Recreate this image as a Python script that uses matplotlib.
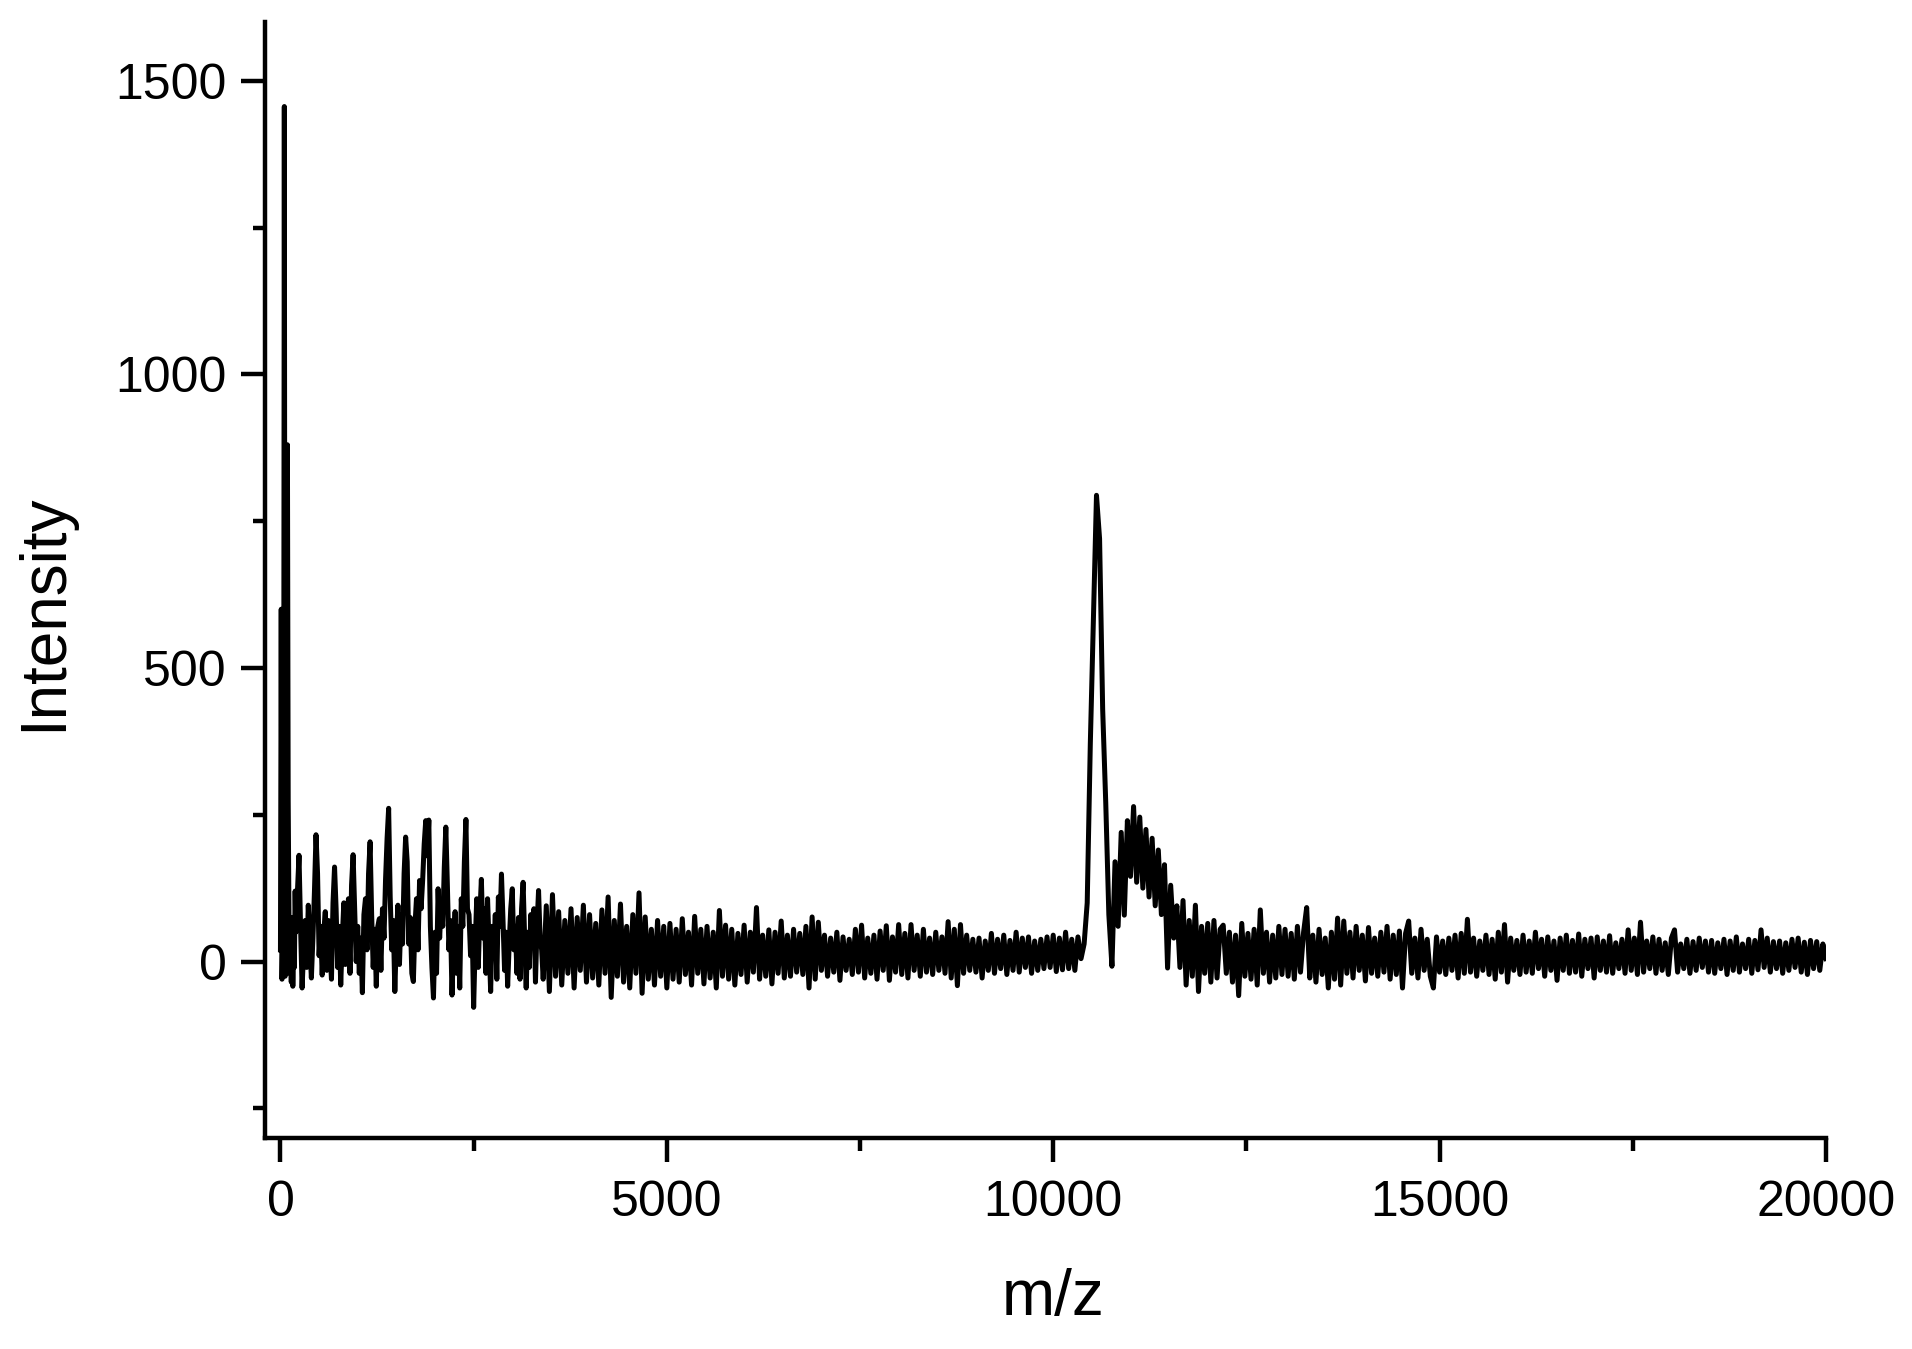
import numpy as np
import matplotlib
matplotlib.use("Agg")
import matplotlib.pyplot as plt
from matplotlib.ticker import MultipleLocator

plt.rcParams['font.family'] = ['Liberation Sans', 'DejaVu Sans']

# m/z 0-190, step 10 (the sharp low-mass spikes)
head_mz = np.arange(0, 200, 10)
head_int = [20, 600, -30, 60, -20, 1456, -25, 70, -10, 880,
            275, 80, -20, 60, -35, 75, -42, 40, -10, 120]

# m/z 200-3380, step 20 (periodic peak series)
low_int = [
    50, 120, 181, 60, -45, 20, 70, -10, 96, 30, -28, 40, 120, 216, 150, 10,        # 200-500
    60, -23, 50, 85, -15, 70, 20, -30, 100, 161, 90, -10, 60, -40, 40, 100,        # 520-820
    -5, 70, 107, -20, 130, 182, 90, 0, 60, -20, 40, -53, 80, 107, 20, 150,         # 840-1140
    204, 80, -10, 55, -42, 60, 73, -15, 90, 40, 140, 210, 261, 110, 20, 70,        # 1160-1460
    -51, 40, 96, -5, 80, 30, 150, 212, 170, 30, 75, -20, -34, 60, 107, 20,         # 1480-1780
    138, 90, 138, 200, 240, 180, 241, 60, -10, -62, 50, -20, 124, 40, 100, 60,     # 1800-2100
    160, 229, 130, 20, 70, -57, 30, 85, -20, 60, -45, 107, 60, 170, 242, 90,       # 2120-2420
    80, 10, 60, -78, 30, 107, -10, 80, 140, 40, 90, -20, 107, 30, -51, 60,         # 2440-2740
    10, 80, -30, 110, 60, 149, 70, -15, 50, -42, 30, 90, 124, 20, 60, -20,         # 2760-3060
    75, -30, 90, 135, 40, -45, 50, -10, 80, 30, 90, -35, 60, 121, 40, 20,          # 3080-3380
]
low_mz = 200 + 20 * np.arange(len(low_int))

# m/z 3400-20000, step 40
body_int = [
    # 3400 - 4160
    -30, 95, -51, 114, -25, 85, -40, 70, -20, 90, -45, 75, -15, 96, -35, 80, -28, 65, -40, 88,
    # 4200 - 4960
    -20, 110, -61, 70, -25, 98, -35, 60, -45, 80, -20, 117, -54, 76, -30, 55, -40, 70, -25, 60,
    # 5000 - 5760
    -45, 65, -30, 55, -35, 73, -22, 50, -40, 77, -20, 55, -38, 60, -28, 50, -45, 87, -25, 62,
    # 5800 - 6560
    -30, 55, -40, 48, -22, 62, -35, 50, -18, 92, -30, 45, -25, 54, -38, 50, -20, 69, -28, 45,
    # 6600 - 7360
    -25, 55, -18, 48, -22, 60, -45, 76, -30, 67, -15, 45, -25, 40, -18, 50, -32, 42, -15, 38,
    # 7400 - 8160
    -22, 55, -18, 62, -28, 40, -20, 45, -30, 52, -15, 61, -32, 42, -18, 63, -22, 48, -28, 63,
    # 8200 - 8960
    -15, 45, -25, 55, -18, 40, -22, 50, -15, 42, -20, 68, -28, 55, -41, 63, -20, 45, -15, 38,
    # 9000 - 9760
    -18, 40, -28, 35, -15, 48, -20, 38, -12, 45, -22, 36, -15, 50, -18, 40, -10, 42, -20, 35,
    # 9800 - 10560
    -15, 38, -12, 42, -10, 45, -17, 40, -14, 50, -12, 38, -15, 42, 5, 30, 100, 370, 580, 794,
    # 10600 - 11360
    720, 430, 270, 80, -8, 170, 60, 220, 79, 240, 145, 264, 135, 246, 125, 225, 110, 210, 95, 190,
    # 11400 - 12160
    80, 165, -11, 130, 40, 95, -10, 104, -40, 70, -25, 96, -51, 60, -20, 65, -35, 70, -28, 55,
    # 12200 - 12960
    62, -20, 50, -35, 45, -58, 65, -25, 48, -30, 55, -40, 88, -20, 50, -35, 45, -28, 60, -22,
    # 13000 - 13760
    55, -25, 48, -30, 60, -18, 50, 92, -28, 45, -35, 55, -22, 40, -45, 50, -30, 74, -40, 69,
    # 13800 - 14560
    -20, 50, -28, 60, -15, 45, -33, 58, -20, 40, -25, 50, -18, 60, -30, 45, -22, 52, -45, 48,
    # 14600 - 15360
    69, -20, 40, -28, 55, -15, 38, -25, -45, 42, -18, 35, -22, 40, -15, 45, -28, 48, -20, 72,
    # 15400 - 16160
    -18, 40, -25, 35, -15, 45, -22, 38, -30, 50, -18, 63, -35, 40, -15, 36, -22, 45, -18, 35,
    # 16200 - 16960
    -20, 50, -12, 38, -25, 42, -15, 35, -32, 40, -15, 45, -20, 36, -18, 47, -25, 38, -12, 40,
    # 17000 - 17760
    -28, 42, -15, 35, -18, 44, -20, 32, -12, 38, -20, 54, -15, 40, -22, 67, -18, 35, -12, 42,
    # 17800 - 18560
    -20, 38, -15, 32, -22, 40, 54, -18, 30, -12, 38, -20, 34, -15, 40, -10, 35, -18, 36, -20,
    # 18600 - 19360
    32, -12, 38, -22, 35, -15, 42, -18, 30, -12, 38, -20, 36, -14, 54, -10, 40, -18, 34, -12,
    # 19400 - 20000
    35, -20, 32, -15, 38, -10, 40, -18, 33, -22, 36, -12, 34, -15, 30, 5,
]
body_mz = 3400 + 40 * np.arange(len(body_int))

mz = np.concatenate([head_mz, low_mz, body_mz])
intensity = np.concatenate([head_int, low_int, body_int])

fig = plt.figure(figsize=(19.12, 13.49), dpi=100)
ax = fig.add_axes([0.1386, 0.1566, 0.955 - 0.1386, 0.9837 - 0.1566])

ax.plot(mz, intensity, color='black', lw=3.6)

ax.set_xlim(-200, 20000)
ax.set_ylim(-300, 1600)

ax.xaxis.set_major_locator(MultipleLocator(5000))
ax.xaxis.set_minor_locator(MultipleLocator(2500))
ax.yaxis.set_major_locator(MultipleLocator(500))
ax.yaxis.set_minor_locator(MultipleLocator(250))

for side in ['top', 'right']:
    ax.spines[side].set_visible(False)
for side in ['left', 'bottom']:
    ax.spines[side].set_linewidth(3.2)

ax.tick_params(which='major', direction='out', length=17.5, width=3.2, labelsize=36)
ax.tick_params(which='minor', direction='out', length=9, width=3.2)
ax.tick_params(axis='x', which='major', pad=13)
ax.tick_params(axis='y', which='major', pad=10)

ax.set_xlabel('m/z', fontsize=46)
ax.set_ylabel('Intensity', fontsize=46)
ax.xaxis.set_label_coords(0.505, -0.144)
ax.yaxis.set_label_coords(-0.1416, 0.471)
ax.xaxis.label.set_va('center')
ax.yaxis.label.set_va('center')

fig.savefig('out.png', dpi=100, facecolor='white')
